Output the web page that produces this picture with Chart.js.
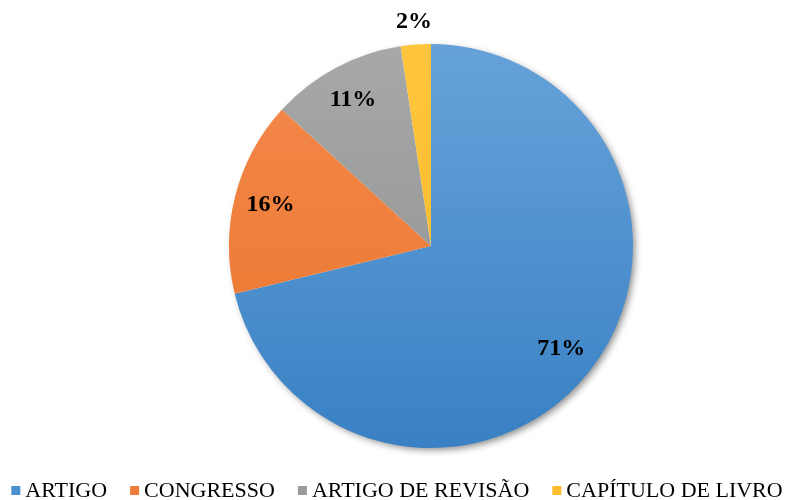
<!DOCTYPE html>
<html>
<head>
<meta charset="utf-8">
<script src="https://cdn.jsdelivr.net/npm/chart.js@4"></script>
<style>
  html, body { margin:0; padding:0; background:#fff; }
  #wrap { width:785px; height:500px; }
</style>
</head>
<body>
<div id="wrap"><canvas id="pie"></canvas></div>
<script>
const categories = ['ARTIGO', 'CONGRESSO', 'ARTIGO DE REVISÃO', 'CAPÍTULO DE LIVRO'];
const shares = [71.2, 15.6, 10.8, 2.4];
const shareLabels = ['71%', '16%', '11%', '2%'];
const topColors = ['#66a2d9', '#f48a4c', '#a7a8a8', '#ffc63d'];
const bottomColors = ['#3981c4', '#e9732c', '#8c8d8d', '#f3b526'];
const swatchColors = ['#4a8fd0', '#ef7d3a', '#9a9b9b', '#fbbd2e'];

const serif = '"Liberation Serif", "Times New Roman", serif';

// soft shadow under the pie
const pieShadow = {
  id: 'pieShadow',
  beforeDatasetsDraw(chart) {
    const arc = chart.getDatasetMeta(0).data[0];
    if (!arc) return;
    const ctx = chart.ctx;
    ctx.save();
    ctx.shadowColor = 'rgba(0,0,0,0.45)';
    ctx.shadowBlur = 7;
    ctx.shadowOffsetX = 3;
    ctx.shadowOffsetY = 3;
    ctx.fillStyle = '#fff';
    ctx.beginPath();
    ctx.arc(arc.x, arc.y, arc.outerRadius - 1, 0, Math.PI * 2);
    ctx.fill();
    ctx.restore();
  }
};

// percentage labels
const sliceLabels = {
  id: 'sliceLabels',
  afterDatasetsDraw(chart) {
    const ctx = chart.ctx;
    ctx.save();
    ctx.font = 'bold 24px ' + serif;
    ctx.fillStyle = '#000';
    ctx.textAlign = 'center';
    ctx.textBaseline = 'middle';
    chart.getDatasetMeta(0).data.forEach((arc, i) => {
      const mid = (arc.startAngle + arc.endAngle) / 2;
      const d = shares[i] < 5 ? arc.outerRadius + 23 : arc.outerRadius * 0.82;
      ctx.fillText(shareLabels[i], arc.x + Math.cos(mid) * d, arc.y + Math.sin(mid) * d);
    });
    ctx.restore();
  }
};

// legend row along the bottom
const bottomLegend = {
  id: 'bottomLegend',
  afterDraw(chart) {
    const ctx = chart.ctx;
    ctx.save();
    ctx.font = '22px ' + serif;
    ctx.textBaseline = 'alphabetic';
    const box = 9, gap = 5, between = 23;
    const widths = chart.data.labels.map(l => box + gap + ctx.measureText(l).width);
    const total = widths.reduce((a, b) => a + b, 0) + between * (widths.length - 1);
    let x = 397 - total / 2;
    chart.data.labels.forEach((l, i) => {
      ctx.fillStyle = swatchColors[i];
      ctx.fillRect(x, 486, box, box);
      ctx.fillStyle = '#000';
      ctx.fillText(l, x + box + gap, 497);
      x += widths[i] + between;
    });
    ctx.restore();
  }
};

function sliceFill(c) {
  const area = c.chart.chartArea;
  if (!area) return topColors[c.dataIndex];
  const arc = c.chart.getDatasetMeta(0).data[c.dataIndex];
  const cy = arc && arc.y ? arc.y : (area.top + area.bottom) / 2;
  const r = arc && arc.outerRadius ? arc.outerRadius : 200;
  const g = c.chart.ctx.createLinearGradient(0, cy - r, 0, cy + r);
  g.addColorStop(0, topColors[c.dataIndex]);
  g.addColorStop(1, bottomColors[c.dataIndex]);
  return g;
}

new Chart(document.getElementById('pie'), {
  type: 'pie',
  data: {
    labels: categories,
    datasets: [{
      data: shares,
      backgroundColor: sliceFill,
      borderWidth: 0,
      radius: 202
    }]
  },
  options: {
    responsive: true,
    maintainAspectRatio: false,
    animation: false,
    layout: { padding: { left: 77, right: 0, top: 0, bottom: 8 } },
    plugins: {
      legend: { display: false },
      tooltip: { enabled: false }
    }
  },
  plugins: [pieShadow, sliceLabels, bottomLegend]
});
</script>
</body>
</html>
